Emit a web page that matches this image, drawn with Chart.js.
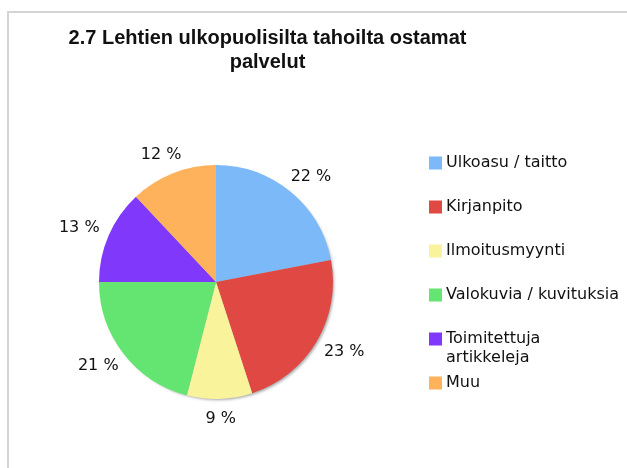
<!DOCTYPE html>
<html>
<head>
<meta charset="utf-8">
<script src="https://cdn.jsdelivr.net/npm/chart.js@4/dist/chart.umd.min.js"></script>
<style>
  html, body { margin: 0; padding: 0; background: #fff; }
  #wrap { position: relative; width: 627px; height: 468px; overflow: hidden; }
  #frame { position: absolute; left: 7px; top: 11px; width: 700px; height: 600px;
           border-top: 2px solid #d4d4d4; border-left: 2px solid #d4d4d4; }
  #chart { position: absolute; left: 0; top: 0; }
</style>
</head>
<body>
<div id="wrap">
  <div id="frame"></div>
  <canvas id="chart" width="627" height="468"></canvas>
</div>
<script>
// data
const titleLines = ['2.7 Lehtien ulkopuolisilta tahoilta ostamat', 'palvelut'];
const categories = ['Ulkoasu / taitto', 'Kirjanpito', 'Ilmoitusmyynti', 'Valokuvia / kuvituksia', 'Toimitettuja artikkeleja', 'Muu'];
const percents = [22, 23, 9, 21, 13, 12];
const colors = ['#7cb9f8', '#e04843', '#f9f39b', '#64e470', '#8038fb', '#fdb25b'];

// title drawn in fixed place (centred over pie + legend block like the original)
const titlePlugin = {
    id: 'titleText',
    afterDraw(chart) {
        const ctx = chart.ctx;
        ctx.save();
        ctx.font = "bold 20px 'Liberation Sans', Arial, sans-serif";
        ctx.fillStyle = '#111';
        ctx.textAlign = 'center';
        ctx.textBaseline = 'alphabetic';
        titleLines.forEach((line, i) => ctx.fillText(line, 267.5, 44 + i * 24));
        ctx.restore();
    }
};

// soft grey shadow under the pie
const shadowPlugin = {
    id: 'pieShadow',
    beforeDatasetsDraw(chart) {
        const arc = chart.getDatasetMeta(0).data[0];
        if (!arc) return;
        const ctx = chart.ctx;
        ctx.save();
        ctx.shadowColor = 'rgba(0,0,0,0.35)';
        ctx.shadowBlur = 3;
        ctx.shadowOffsetX = 2;
        ctx.shadowOffsetY = 2;
        ctx.fillStyle = '#bbb';
        ctx.beginPath();
        ctx.arc(arc.x, arc.y, arc.outerRadius - 1, 0, Math.PI * 2);
        ctx.fill();
        ctx.restore();
    }
};

// percent labels outside each slice (text box pushed out by half its size)
const labelPlugin = {
    id: 'sliceLabels',
    afterDatasetsDraw(chart) {
        const ctx = chart.ctx;
        const meta = chart.getDatasetMeta(0);
        ctx.save();
        ctx.font = "16px 'DejaVu Sans', Verdana, sans-serif";
        ctx.fillStyle = '#111';
        ctx.textAlign = 'center';
        ctx.textBaseline = 'middle';
        meta.data.forEach((arc, i) => {
            const mid = (arc.startAngle + arc.endAngle) / 2;
            const cx = Math.cos(mid), sy = Math.sin(mid);
            const d = arc.outerRadius + 10;
            ctx.fillText(percents[i] + ' %', arc.x + cx * d + cx * 22, arc.y + sy * d + sy * 10);
        });
        ctx.restore();
    }
};

// legend at right, fixed row step, long names wrap
const legendPlugin = {
    id: 'sideLegend',
    afterDraw(chart) {
        const ctx = chart.ctx;
        ctx.save();
        ctx.font = "16px 'DejaVu Sans', Verdana, sans-serif";
        ctx.textBaseline = 'middle';
        ctx.textAlign = 'left';
        categories.forEach((name, i) => {
            const y = 162.5 + i * 44;
            ctx.fillStyle = colors[i];
            ctx.fillRect(429, y - 6, 13, 13);
            // simple word wrap
            const words = name.split(' ');
            const lines = [];
            let cur = '';
            words.forEach(w => {
                const test = cur ? cur + ' ' + w : w;
                if (ctx.measureText(test).width > 180 && cur) { lines.push(cur); cur = w; }
                else cur = test;
            });
            lines.push(cur);
            ctx.fillStyle = '#111';
            lines.forEach((l, j) => ctx.fillText(l, 446, y + j * 19.5));
        });
        ctx.restore();
    }
};

new Chart(document.getElementById('chart'), {
    type: 'pie',
    data: {
        labels: categories,
        datasets: [{
            data: percents,
            backgroundColor: colors,
            borderWidth: 0
        }]
    },
    options: {
        responsive: false,
        animation: false,
        layout: { padding: { left: 99, right: 294, top: 165, bottom: 69 } },
        plugins: {
            legend: { display: false },
            title: { display: false },
            tooltip: { enabled: false }
        }
    },
    plugins: [titlePlugin, shadowPlugin, labelPlugin, legendPlugin]
});
</script>
</body>
</html>
